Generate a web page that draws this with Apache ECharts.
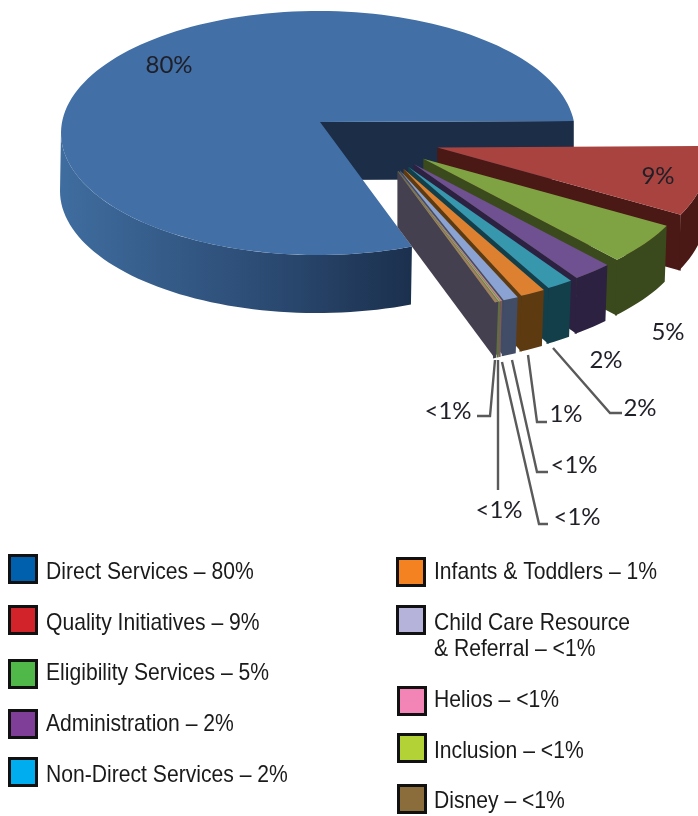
<!DOCTYPE html>
<html>
	<head>
		<meta charset="utf-8">
		<title></title>
		<style type="text/css">
			* {
				margin: 0;
				padding: 0;
			}

			#pie {
				width: 698px;
				height: 816px;
			}
		</style>
		<script src="https://cdn.jsdelivr.net/npm/echarts@6/dist/echarts.min.js"></script>
	</head>
	<body>
		<div id="pie"></div>
	</body>
	<script type="text/javascript">
		// data
		var categories = ['Direct Services', 'Quality Initiatives', 'Eligibility Services', 'Administration', 'Non-Direct Services',
			'Infants & Toddlers', 'Child Care Resource', 'Helios', 'Inclusion', 'Disney'];
		var values = [79.4, 8.7, 5.1, 2.4, 1.6, 1.5, 0.9, 0.1, 0.1, 0.2];
		var shownPercents = ['80%', '9%', '5%', '2%', '2%', '1%', '<1%', '<1%', '<1%', '<1%'];
		var legendTexts = ['Direct Services – 80%', 'Quality Initiatives – 9%', 'Eligibility Services – 5%', 'Administration – 2%',
			'Non-Direct Services – 2%', 'Infants & Toddlers – 1%', 'Child Care Resource', '& Referral – <1%', 'Helios – <1%',
			'Inclusion – <1%', 'Disney – <1%'];

		// colours
		var faceColors = ['#416fa6', '#a8433f', '#7fa243', '#6f5090', '#3697ad', '#dd8030', '#8aa3d2', '#c98a8a', '#9cb26b', '#a08060'];
		var sideColors = ['#1b2d47', '#4a1815', '#3b4a1c', '#2c2140', '#123f49', '#5e3a10', '#414d66', '#7a5a5a', '#5f7040', '#454050'];
		var legendColors = ['#0060ae', '#d2232a', '#50b848', '#7f3f98', '#00aeef', '#f58220', '#b5b3d9', '#f285b5', '#b2d235', '#8a6d3b'];

		// layout, not data
		var swatchPos = [[8, 554], [8, 605], [8, 659], [8, 709], [8, 757],
			[396, 557], [396, 605], [397, 686], [397, 733], [397, 784]];
		var legendTextPos = [[46, 572.5], [46, 623.5], [46, 673.5], [46, 724], [46, 775],
			[434, 572.5], [434, 623.5], [434, 649.5], [434, 700], [434, 751], [434, 801]];
		var labelPos = [[169, 65], [658, 176], [668, 332], [606, 360], [640, 408], [566, 414], [574, 465], [577, 517], [499, 510], [448, 411]];
		var leaders = [null, null, null, null,
			[[553, 348], [610, 413], [622, 413]],
			[[528, 355], [537, 422], [547, 422]],
			[[512, 360], [537, 472], [548, 472]],
			[[502, 362], [539, 524], [548, 524]],
			[[498, 360], [498, 490]],
			[[495, 360], [490, 416], [477, 416]]];

		var CX = 318, CY = 133, RX = 257, RY = 122, SQUASH = 0.475;
		var APEX_DX = 2, APEX_DY = -11;
		var FIRST_ANGLE = -5.6;

		function rad(d) {
			return d * Math.PI / 180;
		}

		// start and end angle of every slice, slices run clockwise from the right
		var angles = [];
		var run = FIRST_ANGLE;
		for (var i = 1; i < values.length; i++) {
			angles[i] = [run, run + values[i] * 3.6];
			run += values[i] * 3.6;
		}
		angles[0] = [run, run + values[0] * 3.6];

		function arcPoints(cx, cy, rx, ry, from, to) {
			var pts = [];
			var n = Math.max(2, Math.ceil(Math.abs(to - from) / 2));
			for (var k = 0; k <= n; k++) {
				var t = rad(from + (to - from) * k / n);
				pts.push([cx + rx * Math.cos(t), cy + ry * Math.sin(t)]);
			}
			return pts;
		}

		function sliceShapes(idx) {
			var s = angles[idx][0], e = angles[idx][1];
			var cx = CX, cy = CY, scale = 1, depth = 58, shift = -1;
			if (idx > 0) {
				// exploded slices move out, direction follows the slice angle
				var dir = rad(19.7 + 0.49 * (s + e) / 2);
				cx += 129 * Math.cos(dir);
				cy += 129 * SQUASH * Math.sin(dir);
				scale = 1.06;
				depth = 56;
				shift = -2;
			}
			var apex = [cx + APEX_DX, cy + APEX_DY];
			var rx = RX * scale, ry = RY * scale;
			var down = function (p) {
				return [p[0] + shift, p[1] + depth];
			};
			var children = [];

			var wallEnd = angles[idx][1];
			var tip = [cx + rx * Math.cos(rad(wallEnd)), cy + ry * Math.sin(rad(wallEnd))];
			children.push({
				type: 'polygon',
				shape: { points: [apex, tip, [tip[0], tip[1] + depth], [apex[0], apex[1] + depth]] },
				style: { fill: sideColors[idx] }
			});

			var rimTo = idx > 0 ? e : 180;
			var rim = arcPoints(cx, cy, rx, ry, s, rimTo);
			var rimFill = sideColors[idx];
			if (idx === 0) {
				rimFill = new echarts.graphic.LinearGradient(1, 0, 0, 0, [
					{ offset: 0, color: '#1b304d' },
					{ offset: 0.4, color: '#2b4a72' },
					{ offset: 1, color: '#3f6d9f' }
				]);
			}
			children.push({
				type: 'polygon',
				shape: { points: rim.concat(rim.slice().reverse().map(down)) },
				style: { fill: rimFill }
			});

			children.push({
				type: 'polygon',
				shape: { points: [apex].concat(arcPoints(cx, cy, rx, ry, s, e)) },
				style: { fill: faceColors[idx] }
			});
			return { type: 'group', children: children };
		}

		var series = categories.map(function (name, idx) {
			return {
				name: name,
				type: 'custom',
				coordinateSystem: 'none',
				silent: true,
				animation: false,
				z: 2,
				data: [[values[idx]]],
				renderItem: function () {
					return sliceShapes(idx);
				}
			};
		});

		// percent labels and leader lines sit on top of the slices
		series.push({
			name: 'labels',
			type: 'custom',
			coordinateSystem: 'none',
			silent: true,
			animation: false,
			z: 3,
			data: shownPercents.map(function (p, idx) {
				return [idx];
			}),
			renderItem: function (params, api) {
				var idx = api.value(0);
				var children = [];
				if (leaders[idx]) {
					children.push({
						type: 'polyline',
						shape: { points: leaders[idx] },
						style: { fill: null, stroke: '#5a5a5a', lineWidth: 2.4 }
					});
				}
				children.push({
					type: 'text',
					style: {
						text: shownPercents[idx],
						x: labelPos[idx][0],
						y: labelPos[idx][1],
						align: 'center',
						verticalAlign: 'middle',
						fill: '#1f1f28',
						font: '24px Lato'
					}
				});
				return { type: 'group', children: children };
			}
		});

		// native legend only gives the swatches, its text has to be a squeezed face
		var legends = categories.map(function (name, idx) {
			return {
				left: swatchPos[idx][0],
				top: swatchPos[idx][1],
				padding: 0,
				itemWidth: 27,
				itemHeight: 27,
				icon: 'rect',
				selectedMode: false,
				formatter: function () {
					return '';
				},
				data: [{
					name: name,
					itemStyle: { color: legendColors[idx], borderColor: '#111', borderWidth: 3 }
				}]
			};
		});

		var textItems = legendTexts.map(function (t, idx) {
			return {
				type: 'text',
				x: legendTextPos[idx][0],
				y: legendTextPos[idx][1],
				scaleX: 0.88,
				style: {
					text: t,
					verticalAlign: 'middle',
					fill: '#1a1a1a',
					font: '24px "Liberation Sans"'
				}
			};
		});

		var chart = echarts.init(document.getElementById('pie'));
		chart.setOption({
			animation: false,
			legend: legends,
			series: series,
			graphic: textItems
		});
	</script>
</html>
